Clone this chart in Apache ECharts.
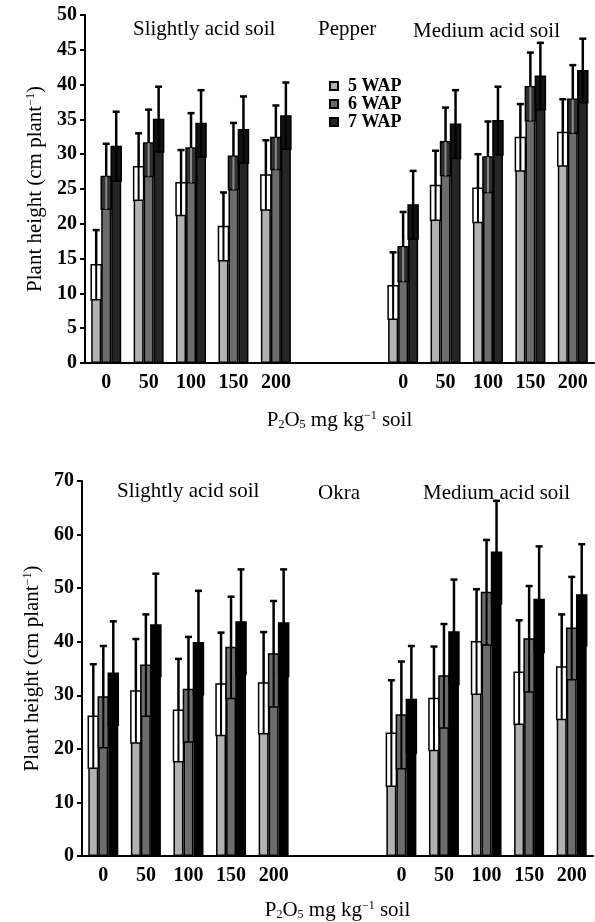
<!DOCTYPE html>
<html>
<head>
<meta charset="utf-8">
<script src="https://cdn.jsdelivr.net/npm/echarts@6/dist/echarts.min.js"></script>
<style>
  html, body { margin: 0; padding: 0; background: #fff; }
  #main { width: 595px; height: 922px; }
</style>
</head>
<body>
<div id="main"></div>
<script>
// categories: two soils, two empty slots between them
var categories = ['0', '50', '100', '150', '200', '', '', '0', '50', '100', '150', '200'];
var seriesNames = ['5 WAP', '6 WAP', '7 WAP'];

// Pepper (top panel)
var pepper5 = [14.1, 28.2, 25.9, 19.6, 27.0, null, null, 11.1, 25.5, 25.1, 32.4, 33.1];
var pepper6 = [26.8, 31.6, 30.9, 29.7, 32.4, null, null, 16.7, 31.8, 29.6, 39.7, 37.9];
var pepper7 = [31.1, 35.0, 34.4, 33.5, 35.5, null, null, 22.7, 34.3, 34.8, 41.2, 42.0];
var pepperErr5 = [5.0, 4.8, 4.7, 4.9, 5.0, null, null, 4.8, 5.0, 4.9, 4.8, 4.8];
var pepperErr6 = [4.7, 4.8, 5.0, 4.8, 4.6, null, null, 5.0, 4.9, 5.1, 4.9, 4.9];
var pepperErr7 = [5.0, 4.7, 4.8, 4.8, 4.8, null, null, 4.9, 4.9, 4.9, 4.8, 4.6];

// Okra (bottom panel)
var okra5 = [26.1, 30.8, 27.2, 32.1, 32.3, null, null, 22.9, 29.4, 40.0, 34.3, 35.3];
var okra6 = [29.7, 35.6, 31.1, 38.9, 37.7, null, null, 26.3, 33.6, 49.2, 40.5, 42.5];
var okra7 = [34.1, 43.1, 39.8, 43.7, 43.5, null, null, 29.2, 41.8, 56.7, 47.9, 48.7];
var okraErr5 = [9.7, 9.7, 9.6, 9.6, 9.5, null, null, 9.9, 9.7, 9.8, 9.7, 9.8];
var okraErr6 = [9.5, 9.5, 9.8, 9.5, 9.9, null, null, 10.0, 9.7, 9.8, 9.9, 9.6];
var okraErr7 = [9.7, 9.6, 9.7, 9.8, 10.0, null, null, 10.0, 9.8, 9.6, 9.9, 9.5];

var pepperTicks = { min: 0, max: 50, interval: 5 };
var okraTicks = { min: 0, max: 70, interval: 10 };

var FONT = '"Liberation Serif", "Times New Roman", serif';
var colorsTop = ['#b2b2b2', '#6c6c6c', '#262626'];
var colorsBottom = ['#b2b2b2', '#6c6c6c', '#000000'];
// fill of the lower half of the error bar (inside the bar), and its centre line
var bandTop = [['#ffffff', '#000'], ['#303030', '#8a8a8a'], ['#111111', '#000']];
var bandBottom = [['#ffffff', '#000'], ['#6c6c6c', '#000'], ['#000000', '#000']];
var BAR_W = 10;

var chart = echarts.init(document.getElementById('main'));

function barSeries(name, values, idx, color) {
  return {
    name: name,
    type: 'bar',
    xAxisIndex: idx,
    yAxisIndex: idx,
    data: values,
    barWidth: BAR_W,
    barGap: '0%',
    itemStyle: { color: color, borderColor: '#000', borderWidth: 1.5 },
    z: 2
  };
}

function errSeries(values, errs, idx, offset, band) {
  var data = [];
  values.forEach(function (v, i) {
    if (v != null) data.push([i, v, errs[i]]);
  });
  return {
    type: 'custom',
    xAxisIndex: idx,
    yAxisIndex: idx,
    data: data,
    z: 5,
    silent: true,
    renderItem: function (params, api) {
      var c = api.value(0), v = api.value(1), e = api.value(2);
      var p = api.coord([c, v]);
      var lo = api.coord([c, v - e]);
      var hi = api.coord([c, v + e]);
      var x = p[0] + offset;
      return {
        type: 'group',
        children: [
          { type: 'rect', shape: { x: x - BAR_W / 2, y: p[1], width: BAR_W, height: lo[1] - p[1] },
            style: { fill: band[0], stroke: '#000', lineWidth: 1.5 } },
          { type: 'line', shape: { x1: x, y1: lo[1], x2: x, y2: p[1] },
            style: { stroke: band[1], lineWidth: 2 } },
          { type: 'line', shape: { x1: x, y1: p[1], x2: x, y2: hi[1] },
            style: { stroke: '#000', lineWidth: 2.5 } },
          { type: 'line', shape: { x1: x - 3.5, y1: hi[1], x2: x + 3.5, y2: hi[1] },
            style: { stroke: '#000', lineWidth: 2.5 } }
        ]
      };
    }
  };
}

var axisLine = { lineStyle: { color: '#000', width: 2 } };
var axisTick = { length: 5, lineStyle: { color: '#000', width: 2 } };
var tickLabel = { color: '#000', fontFamily: FONT, fontSize: 20, fontWeight: 'bold' };
var rich = {
  sub: { fontFamily: FONT, fontSize: 12, color: '#000', verticalAlign: 'bottom', padding: [8, 0, 0, 0] },
  sup: { fontFamily: FONT, fontSize: 12, color: '#000', verticalAlign: 'top', padding: [0, 0, 8, 0] }
};
var nameStyle = { color: '#000', fontFamily: FONT, fontSize: 21, rich: rich };

function xAxis(idx) {
  return {
    type: 'category',
    gridIndex: idx,
    data: categories,
    boundaryGap: true,
    axisLine: axisLine,
    axisTick: axisTick,
    axisLabel: Object.assign({ interval: 0, margin: 10 }, tickLabel),
    name: 'P{sub|2}O{sub|5} mg kg{sup|\u22121} soil',
    nameLocation: 'middle',
    nameGap: idx === 0 ? 47 : 44,
    nameTextStyle: nameStyle
  };
}

function yAxis(idx, t) {
  return {
    type: 'value',
    gridIndex: idx,
    min: t.min,
    max: t.max,
    interval: t.interval,
    splitLine: { show: false },
    axisLine: { show: true, lineStyle: { color: '#000', width: 2 } },
    axisTick: { show: true, length: 5, lineStyle: { color: '#000', width: 2 } },
    axisLabel: Object.assign({ margin: 8 }, tickLabel),
    name: 'Plant height (cm plant{sup|\u22121})',
    nameLocation: 'middle',
    nameGap: 39,
    nameTextStyle: nameStyle
  };
}

var offsets = [-BAR_W, 0, BAR_W];
var series = [];
[[pepper5, pepper6, pepper7], [okra5, okra6, okra7]].forEach(function (set, idx) {
  var cols = idx === 0 ? colorsTop : colorsBottom;
  set.forEach(function (vals, k) {
    series.push(barSeries(seriesNames[k], vals, idx, cols[k]));
  });
});
[[pepper5, pepper6, pepper7], [okra5, okra6, okra7]].forEach(function (set, idx) {
  var errs = idx === 0 ? [pepperErr5, pepperErr6, pepperErr7] : [okraErr5, okraErr6, okraErr7];
  var bands = idx === 0 ? bandTop : bandBottom;
  set.forEach(function (vals, k) {
    series.push(errSeries(vals, errs[k], idx, offsets[k], bands[k]));
  });
});

var titleStyle = { color: '#000', fontFamily: FONT, fontSize: 21, fontWeight: 'normal' };

chart.setOption({
  animation: false,
  backgroundColor: '#fff',
  title: [
    { text: 'Slightly acid soil', left: 128, top: 14, textStyle: titleStyle },
    { text: 'Pepper', left: 313, top: 14, textStyle: titleStyle },
    { text: 'Medium acid soil', left: 408, top: 16, textStyle: titleStyle },
    { text: 'Slightly acid soil', left: 112, top: 476, textStyle: titleStyle },
    { text: 'Okra', left: 313, top: 478, textStyle: titleStyle },
    { text: 'Medium acid soil', left: 418, top: 478, textStyle: titleStyle }
  ],
  legend: {
    data: seriesNames,
    orient: 'vertical',
    left: 324,
    top: 72,
    itemWidth: 8,
    itemHeight: 8,
    itemGap: 0,
    icon: 'rect',
    textStyle: { color: '#000', fontFamily: FONT, fontSize: 18, fontWeight: 'bold', lineHeight: 18, padding: [0, 0, 0, 5] }
  },
  grid: [
    { left: 85, right: 1, top: 15, height: 348 },
    { left: 82, right: 2, top: 481, height: 375 }
  ],
  xAxis: [xAxis(0), xAxis(1)],
  yAxis: [yAxis(0, pepperTicks), yAxis(1, okraTicks)],
  series: series
});
</script>
</body>
</html>
